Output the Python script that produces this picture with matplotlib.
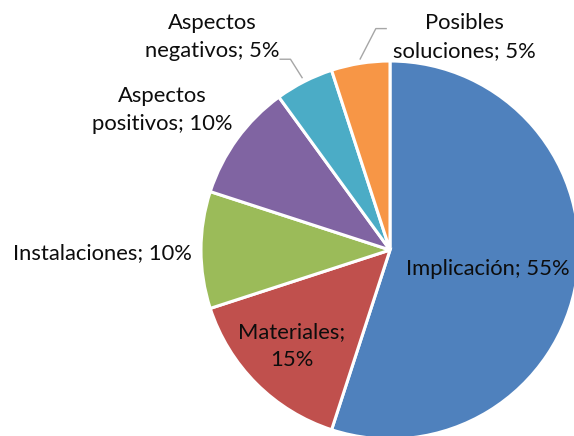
import numpy as np
import matplotlib
matplotlib.use("Agg")
import matplotlib.pyplot as plt

# data
categories = ["Implicación", "Materiales", "Instalaciones", "Aspectos\npositivos",
              "Aspectos\nnegativos", "Posibles\nsoluciones"]
shares = [55, 15, 10, 10, 5, 5]
colors = ["#4F81BD", "#C0504D", "#9BBB59", "#8064A2", "#4BACC6", "#F79646"]

# layout (pixel coords, y up)
W, H = 574, 436
CX, CY, R = 390, 186, 189
label_pos = [(488, 167), (292, 90), (102, 183), (162, 326), (212, 399), (464, 399)]
label_fmt = ["{}; {}%", "{};\n{}%", "{}; {}%", "{}; {}%", "{}; {}%", "{}; {}%"]
# leader lines: (elbow offset, tail offset) from the wedge anchor point
leaders = {4: [(-12, 19), (-23, 19)], 5: [(16, 31), (27, 31)]}

plt.rcParams["font.family"] = ["Lato", "DejaVu Sans"]

fig = plt.figure(figsize=(W / 100, H / 100), dpi=100)
ax = fig.add_axes([0, 0, 1, 1])
wedges, _ = ax.pie(shares, colors=colors, startangle=90, counterclock=False,
                   center=(CX, CY), radius=R,
                   wedgeprops=dict(edgecolor="white", linewidth=2.2))
ax.set_xlim(0, W)
ax.set_ylim(0, H)
ax.set_aspect("equal")
ax.axis("off")

for i, (w, name, val) in enumerate(zip(wedges, categories, shares)):
    x, y = label_pos[i]
    txt = label_fmt[i].format(name, val)
    ax.text(x, y, txt, ha="center", va="center", fontsize=15.8, color="#0d0d0d",
            linespacing=1.5)
    if i in leaders:
        mid = np.deg2rad((w.theta1 + w.theta2) / 2)
        ax0 = CX + R * 1.02 * np.cos(mid)
        ay0 = CY + R * 1.02 * np.sin(mid)
        pts = [(ax0, ay0)] + [(ax0 + dx, ay0 + dy) for dx, dy in leaders[i]]
        xs, ys = zip(*pts)
        ax.plot(xs, ys, color="#A6A6A6", lw=1.0, solid_capstyle="butt")

fig.savefig("out.png", dpi=100)
